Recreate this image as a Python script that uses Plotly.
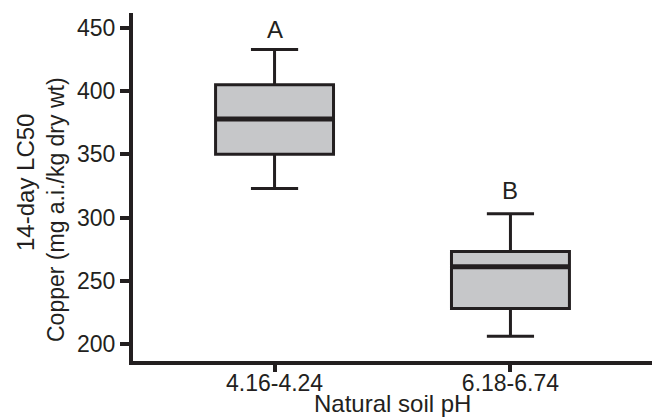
import plotly.graph_objects as go

categories = ["4.16-4.24", "6.18-6.74"]
x_pos = [0, 1]
lower_whisker = [323, 206]
q1 = [350, 228]
median = [378, 261]
q3 = [405, 273]
upper_whisker = [433, 303]
letters = ["A", "B"]
letter_y = [449, 321]
y_ticks = [200, 250, 300, 350, 400, 450]

INK = "#231f20"
FILL = "#c6c7c9"
FONT = "Liberation Sans, Arial, sans-serif"
BOX_W = 0.5

fig = go.Figure()
fig.add_trace(go.Box(
    x=x_pos, q1=q1, median=median, q3=q3,
    lowerfence=lower_whisker, upperfence=upper_whisker,
    width=BOX_W, whiskerwidth=0.4, fillcolor=FILL,
    line=dict(color=INK, width=3), boxpoints=False,
    hoverinfo="skip", showlegend=False,
))
for xp, m in zip(x_pos, median):
    fig.add_trace(go.Scatter(
        x=[xp - BOX_W / 2, xp + BOX_W / 2], y=[m, m], mode="lines",
        line=dict(color=INK, width=5), hoverinfo="skip", showlegend=False,
    ))
for xp, lab, ly in zip(x_pos, letters, letter_y):
    fig.add_annotation(x=xp, y=ly, text=lab, showarrow=False,
                       xref="x", yref="y", yanchor="middle",
                       font=dict(family=FONT, size=24, color=INK))

fig.add_annotation(text="14-day LC50", xref="paper", yref="paper",
                   x=0, y=0.5, xanchor="center", yanchor="middle",
                   xshift=-108, yshift=4, textangle=-90, showarrow=False,
                   font=dict(family=FONT, size=24, color=INK))
fig.add_annotation(text="Copper (mg a.i./kg dry wt)", xref="paper", yref="paper",
                   x=0, y=0.5, xanchor="center", yanchor="middle",
                   xshift=-77, yshift=-23, textangle=-90, showarrow=False,
                   font=dict(family=FONT, size=23, color=INK))
fig.add_annotation(text="Natural soil pH", xref="paper", yref="paper",
                   x=0.5, y=0, xanchor="center", yanchor="middle",
                   yshift=-42, showarrow=False,
                   font=dict(family=FONT, size=24, color=INK))

fig.update_layout(
    width=658, height=418,
    margin=dict(l=133, r=6, t=13, b=57),
    paper_bgcolor="white", plot_bgcolor="white",
    font=dict(family=FONT, size=23, color=INK),
    xaxis=dict(
        range=[-0.6, 1.6], tickvals=x_pos, ticktext=categories,
        showline=True, linecolor=INK, linewidth=4,
        ticks="outside", ticklen=7, tickwidth=4, tickcolor=INK,
        ticklabelstandoff=-9,
        showgrid=False, zeroline=False, automargin=False,
    ),
    yaxis=dict(
        range=[186.4, 461.9], tickvals=y_ticks,
        showline=True, linecolor=INK, linewidth=4,
        ticks="outside", ticklen=9, tickwidth=4, tickcolor=INK,
        showgrid=False, zeroline=False, automargin=False,
    ),
)
fig.write_html("out.html")
